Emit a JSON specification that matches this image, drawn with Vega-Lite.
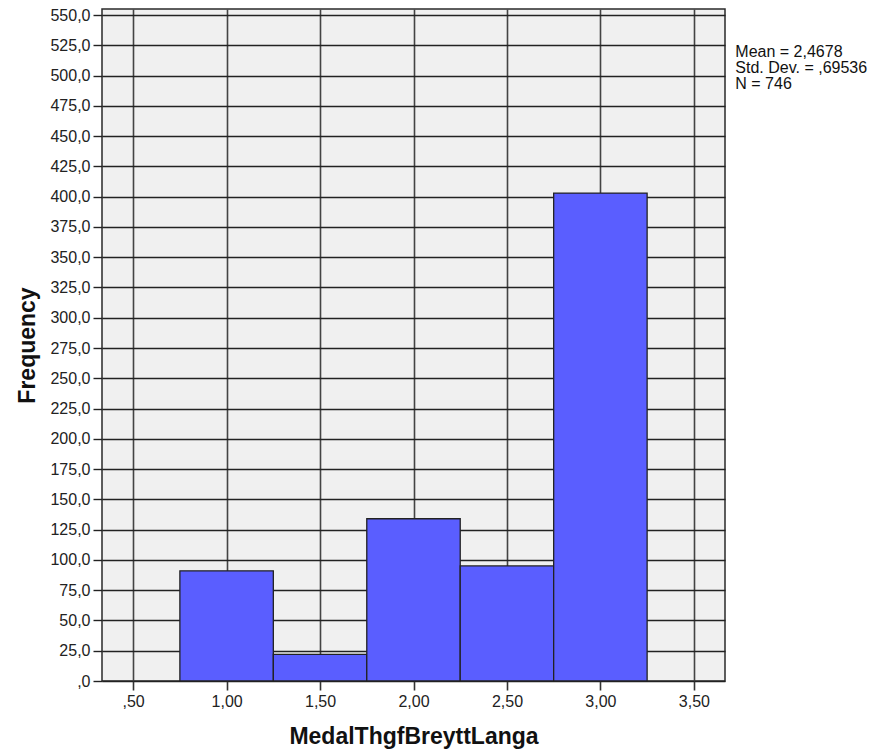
{
  "$schema": "https://vega.github.io/schema/vega-lite/v6.json",
  "width": 623,
  "height": 672,
  "autosize": {"type": "none"},
  "padding": {"left": 102, "top": 9, "right": 154, "bottom": 71},
  "background": "white",
  "config": {
    "view": {"fill": "#F0F0F0", "stroke": "#2a2a2a", "strokeWidth": 1.5},
    "font": "Liberation Sans",
    "axisX": {
      "labelOverlap": false,
      "grid": true,
      "gridColor": "#444444",
      "gridWidth": 1.6,
      "domain": false,
      "ticks": true,
      "tickSize": 9,
      "tickColor": "#333333",
      "tickWidth": 1.6,
      "labelFont": "Liberation Sans",
      "labelFontSize": 16,
      "labelColor": "#222222",
      "labelPadding": 3,
      "titleFont": "Liberation Sans",
      "titleFontSize": 23,
      "titleFontWeight": "bold",
      "titleColor": "#111111",
      "titlePadding": 16
    },
    "axisY": {
      "labelOverlap": false,
      "grid": true,
      "gridColor": "#222222",
      "gridWidth": 1.3,
      "domain": false,
      "ticks": true,
      "tickSize": 9,
      "tickColor": "#222222",
      "tickWidth": 1.4,
      "labelFont": "Liberation Sans",
      "labelFontSize": 16,
      "labelColor": "#222222",
      "labelPadding": 3,
      "titleFont": "Liberation Sans",
      "titleFontSize": 23,
      "titleFontWeight": "bold",
      "titleColor": "#111111",
      "titlePadding": 10
    }
  },
  "layer": [
    {
      "data": {
        "values": [
          {"bin_start": 0.75, "bin_end": 1.25, "count": 91},
          {"bin_start": 1.25, "bin_end": 1.75, "count": 22},
          {"bin_start": 1.75, "bin_end": 2.25, "count": 134},
          {"bin_start": 2.25, "bin_end": 2.75, "count": 95},
          {"bin_start": 2.75, "bin_end": 3.25, "count": 403}
        ]
      },
      "mark": {"type": "rect", "fill": "#5A5EFF", "stroke": "#222222", "strokeWidth": 1.3},
      "encoding": {
        "x": {
          "field": "bin_start",
          "type": "quantitative",
          "scale": {"domain": [0.3333, 3.6667], "nice": false, "zero": false},
          "axis": {
            "title": "MedalThgfBreyttLanga",
            "values": [0.5, 1, 1.5, 2, 2.5, 3, 3.5],
            "labelExpr": "datum.value < 1 ? replace(format(datum.value, '.2f'), '0.', ',') : replace(format(datum.value, '.2f'), '.', ',')"
          }
        },
        "x2": {"field": "bin_end"},
        "y": {
          "field": "count",
          "type": "quantitative",
          "scale": {"domain": [0, 555], "nice": false},
          "axis": {
            "title": "Frequency",
            "values": [0, 25, 50, 75, 100, 125, 150, 175, 200, 225, 250, 275, 300, 325, 350, 375, 400, 425, 450, 475, 500, 525, 550],
            "labelExpr": "datum.value == 0 ? ',0' : replace(format(datum.value, '.1f'), '.', ',')"
          }
        },
        "y2": {"datum": 0}
      }
    },
    {
      "data": {
        "values": [
          {"label": ["Mean = 2,4678", "Std. Dev. = ,69536", "N = 746"]}
        ]
      },
      "mark": {
        "type": "text",
        "align": "left",
        "baseline": "top",
        "font": "Liberation Sans",
        "fontSize": 16,
        "lineHeight": 16,
        "color": "#111111"
      },
      "encoding": {
        "x": {
          "datum": 3.722,
          "type": "quantitative",
          "axis": {
            "title": "MedalThgfBreyttLanga",
            "values": [0.5, 1, 1.5, 2, 2.5, 3, 3.5],
            "labelExpr": "datum.value < 1 ? replace(format(datum.value, '.2f'), '0.', ',') : replace(format(datum.value, '.2f'), '.', ',')"
          }
        },
        "y": {
          "datum": 526,
          "type": "quantitative",
          "axis": {
            "title": "Frequency",
            "values": [0, 25, 50, 75, 100, 125, 150, 175, 200, 225, 250, 275, 300, 325, 350, 375, 400, 425, 450, 475, 500, 525, 550],
            "labelExpr": "datum.value == 0 ? ',0' : replace(format(datum.value, '.1f'), '.', ',')"
          }
        },
        "text": {"field": "label"}
      }
    }
  ]
}
